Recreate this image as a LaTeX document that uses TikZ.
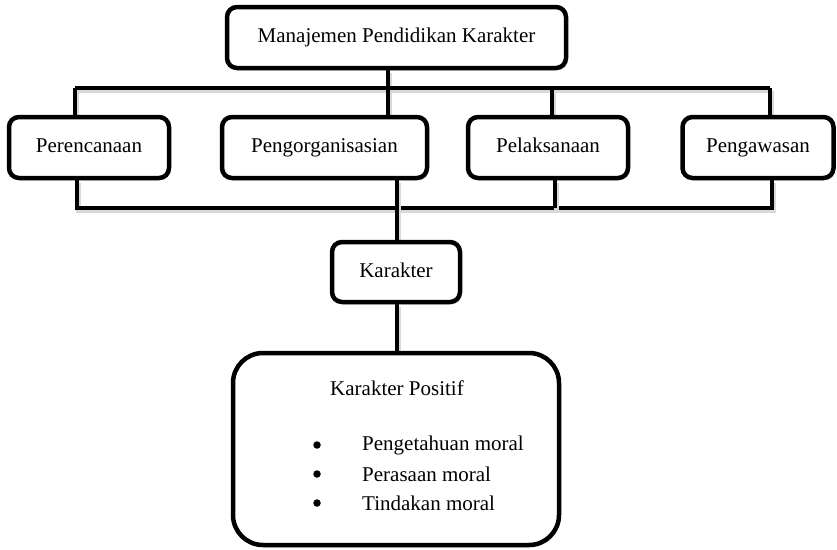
\documentclass[tikz,border=0pt]{standalone}
\usepackage{fontspec}
\setmainfont{Liberation Serif}
\usetikzlibrary{shadows}
\pgfdeclarelayer{background}
\pgfsetlayers{background,main}
\tikzset{
  box/.style={draw=black, line width=4.5pt, rounded corners=10pt, fill=white, inner sep=0pt,
    font=\fontsize{21}{25}\selectfont, text height=14pt, text depth=4pt,
    drop shadow={opacity=0.18, shadow xshift=1.5pt, shadow yshift=-2.5pt}},
  conn/.style={draw=black, line width=4.5pt,
    preaction={draw=black!15, line width=4.5pt, transform canvas={shift={(1.5pt,-2.5pt)}}}},
  txt/.style={font=\fontsize{21}{25}\selectfont, inner sep=0pt},
  bul/.style={fill=black, circle, inner sep=0pt, minimum size=7.5pt}
}
\begin{document}
\begin{tikzpicture}[x=1pt,y=-1pt]
\useasboundingbox (0,0) rectangle (837,549);
\coordinate (s0) at (388,88);
\coordinate (tL) at (75,88);
\coordinate (tR) at (770,88);
\coordinate (tP) at (552,88);
\coordinate (bL) at (77,208);
\coordinate (bR) at (772,208);
\coordinate (bO) at (397,208);
\coordinate (bP) at (555,208);
% boxes
\node[box, minimum width=339pt, minimum height=61pt] (top) at (396.5,37.5) {Manajemen Pendidikan Karakter};
\node[box, minimum width=160pt, minimum height=61pt] (per) at (89,147.5) {Perencanaan};
\node[box, minimum width=205pt, minimum height=61pt] (org) at (324.5,147.5) {Pengorganisasian};
\node[box, minimum width=160pt, minimum height=61pt] (pel) at (548,147.5) {Pelaksanaan};
\node[box, minimum width=151pt, minimum height=61pt] (pen) at (758,147.5) {Pengawasan};
\node[box, minimum width=128pt, minimum height=60pt] (kar) at (396,272) {Karakter};
\node[box, rounded corners=30pt, minimum width=326pt, minimum height=192pt] (pos) at (396,449) {};
% connectors behind boxes
\begin{pgfonlayer}{background}
\draw[conn] (top.south -| s0) -- (s0);
\draw[conn] (tL) -- (tR);
\draw[conn] (tL) -- (per.north -| tL);
\draw[conn] (s0) -- (org.north -| s0);
\draw[conn] (tP) -- (pel.north -| tP);
\draw[conn] (tR) -- (pen.north -| tR);
\draw[conn] (per.south -| bL) -- (bL) -- (bR) -- (pen.south -| bR);
\draw[conn] (pel.south -| bP) -- (bP);
\draw[conn] (org.south -| bO) -- (kar.north -| bO);
\draw[conn] (kar.south -| bO) -- (pos.north -| bO);
\end{pgfonlayer}
% contents of bottom box
\node[txt] (kp) at (397,388) {Karakter Positif};
\node[bul] (b1) at (317,445) {};
\node[bul] (b2) at (317,474) {};
\node[bul] (b3) at (317,503) {};
\node[txt, anchor=west] (i1) at (362,445) {Pengetahuan moral};
\node[txt, anchor=west] (i2) at (362,474) {Perasaan moral};
\node[txt, anchor=west] (i3) at (362,503) {Tindakan moral};
\end{tikzpicture}
\end{document}
